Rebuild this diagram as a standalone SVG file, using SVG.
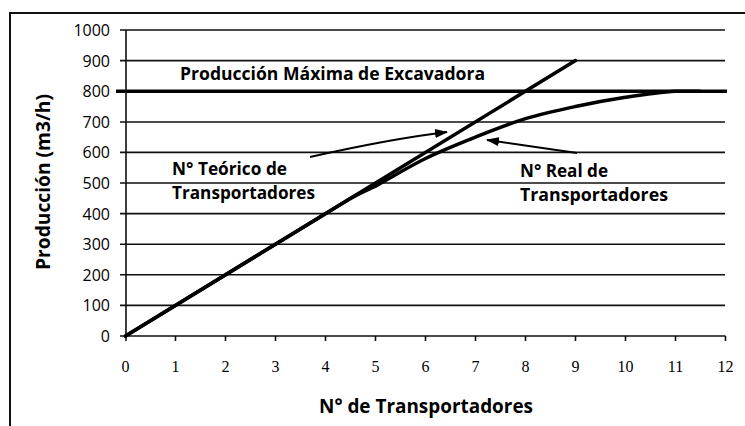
<svg xmlns="http://www.w3.org/2000/svg" width="745" height="426" viewBox="0 0 745 426">
<defs>
<style>
.grid{stroke:#111;stroke-width:1.6;fill:none}
.axis{stroke:#111;stroke-width:1.6;fill:none}
.ytick{font-family:"Open Sans","Liberation Sans",sans-serif;font-size:16px;fill:#000;text-anchor:end}
.xtick{font-family:"Liberation Serif",serif;font-size:16px;fill:#000;text-anchor:middle}
.lbl{font-family:"Open Sans","Liberation Sans",sans-serif;font-weight:bold;fill:#000}
.series{stroke:#000;stroke-width:3.5;fill:none;stroke-linecap:round;stroke-linejoin:round}
.arrow{stroke:#000;stroke-width:2;fill:none;marker-end:url(#ah)}
</style>
<marker id="ah" viewBox="0 0 13 9" refX="12" refY="4.5" markerWidth="13" markerHeight="9" markerUnits="userSpaceOnUse" orient="auto">
<path d="M0,0 L13,4.5 L0,9 z" fill="#000"/>
</marker>
</defs>
<rect x="0" y="0" width="745" height="426" fill="#fff"/>
<g id="frame">
<path d="M10,426 L10,13 L745,13" stroke="#111" stroke-width="2" fill="none"/>
</g>
<g id="grid">
<path class="grid" d="M120,30 H725 M120,60.6 H725 M120,122 H725 M120,152.4 H725 M120,183 H725 M120,213.6 H725 M120,244.2 H725 M120,274.8 H725 M120,305.4 H725"/>
<path d="M116,91.2 H727" stroke="#000" stroke-width="3.5" fill="none"/>
</g>
<g id="axes">
<path class="axis" d="M126,30 V341 M120,336 H725.5"/>
<path class="axis" d="M175.5,336 v5 M225.5,336 v5 M275.5,336 v5 M325.5,336 v5 M375.5,336 v5 M425.5,336 v5 M475.5,336 v5 M525.5,336 v5 M575.5,336 v5 M625.5,336 v5 M675.5,336 v5 M725.5,336 v5"/>
<g id="y-ticks">
<text class="ytick" x="110" y="36">1000</text>
<text class="ytick" x="110" y="66.6">900</text>
<text class="ytick" x="110" y="97.2">800</text>
<text class="ytick" x="110" y="127.8">700</text>
<text class="ytick" x="110" y="158.4">600</text>
<text class="ytick" x="110" y="189">500</text>
<text class="ytick" x="110" y="219.6">400</text>
<text class="ytick" x="110" y="250.2">300</text>
<text class="ytick" x="110" y="280.8">200</text>
<text class="ytick" x="110" y="311.4">100</text>
<text class="ytick" x="110" y="342">0</text>
</g>
<g id="x-ticks">
<text class="xtick" x="125.5" y="372">0</text>
<text class="xtick" x="175.5" y="372">1</text>
<text class="xtick" x="225.5" y="372">2</text>
<text class="xtick" x="275.5" y="372">3</text>
<text class="xtick" x="325.5" y="372">4</text>
<text class="xtick" x="375.5" y="372">5</text>
<text class="xtick" x="425.5" y="372">6</text>
<text class="xtick" x="475.5" y="372">7</text>
<text class="xtick" x="525.5" y="372">8</text>
<text class="xtick" x="575.5" y="372">9</text>
<text class="xtick" x="625.5" y="372">10</text>
<text class="xtick" x="675.5" y="372">11</text>
<text class="xtick" x="725.5" y="372">12</text>
</g>
<text id="x-title" class="lbl" x="319" y="413" font-size="20" textLength="214" lengthAdjust="spacingAndGlyphs">N° de Transportadores</text>
<text id="y-title" class="lbl" transform="translate(50,270) rotate(-90)" x="0" y="0" font-size="20" textLength="176" lengthAdjust="spacingAndGlyphs">Producción (m3/h)</text>
</g>
<g id="series">
<path id="theoretical" class="series" d="M125.5,336 L575.5,60.6"/>
<path id="real" class="series" stroke-width="3" d="M125.5,336 L345.5,201.4 C356,195 363,192 375.5,186.1 C389.7,178.45 408.8,166.67 425.5,158.5 C442.2,150.33 458.8,143.73 475.5,137.1 C492.2,130.47 508.8,123.8 525.5,118.7 C542.2,113.6 558.8,110.07 575.5,106.5 C592.2,102.93 608.8,99.85 625.5,97.3 C642.2,94.75 658.8,92.2 675.5,91.2 L700,91.2"/>
</g>
<g id="label-max">
<text class="lbl" x="180" y="80" font-size="17" textLength="305" lengthAdjust="spacingAndGlyphs">Producción Máxima de Excavadora</text>
</g>
<g id="label-teorico">
<text class="lbl" x="172" y="175" font-size="17" textLength="115" lengthAdjust="spacingAndGlyphs">N° Teórico de</text>
<text class="lbl" x="172" y="199" font-size="17" textLength="143" lengthAdjust="spacingAndGlyphs">Transportadores</text>
</g>
<g id="label-real">
<text class="lbl" x="520" y="177" font-size="17" textLength="88" lengthAdjust="spacingAndGlyphs">N° Real de</text>
<text class="lbl" x="520" y="201" font-size="17" textLength="148" lengthAdjust="spacingAndGlyphs">Transportadores</text>
</g>
<g id="connectors">
<path class="arrow" d="M310,157 Q390,139 447,132"/>
<path class="arrow" d="M577,153 L487,140"/>
</g>
</svg>
